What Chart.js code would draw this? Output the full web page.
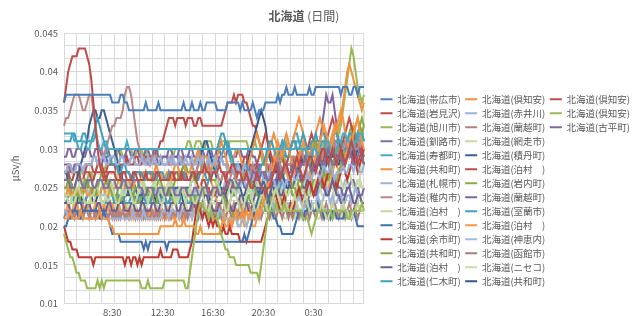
<!DOCTYPE html>
<html>
<head>
<meta charset="utf-8">
<script src="https://cdn.jsdelivr.net/npm/chart.js@4.4.1/dist/chart.umd.min.js"></script>
<style>
  html, body { margin: 0; padding: 0; background: #fff; }
  #box { width: 640px; height: 316px; }
</style>
</head>
<body>
<div id="box"><canvas id="dose"></canvas></div>
<script>
// 10 minute readings from 4:40 to 4:30 next day, values in 0.001 μSv/h
var startMinutes = 4 * 60 + 40;
var stepMinutes = 10;
var pointCount = 144;
var xTickLabels = ['8:30', '12:30', '16:30', '20:30', '0:30'];
var titleMain = '北海道';
var titleSub = ' (日間)';

var stations = ['北海道(帯広市)', '北海道(岩見沢)', '北海道(旭川市)', '北海道(釧路市)', '北海道(寿都町)', '北海道(共和町)', '北海道(札幌市)',
  '北海道(稚内市)', '北海道(泊村　)', '北海道(仁木町)', '北海道(余市町)', '北海道(共和町)', '北海道(泊村　)', '北海道(仁木町)',
  '北海道(倶知安)', '北海道(赤井川)', '北海道(蘭越町)', '北海道(網走市)', '北海道(積丹町)', '北海道(泊村　)', '北海道(岩内町)',
  '北海道(蘭越町)', '北海道(室蘭市)', '北海道(泊村　)', '北海道(神恵内)', '北海道(函館市)', '北海道(ニセコ)', '北海道(共和町)',
  '北海道(倶知安)', '北海道(倶知安)', '北海道(古平町)'];

var colours = ['#4A7EBB', '#BE4B48', '#98B954', '#7D6F9E', '#46AAC5', '#F69240', '#99B2DA',
  '#BC8885', '#C3D69B', '#3F6FAE', '#C0392F', '#86A843', '#6E5F92', '#3CA0BC',
  '#F0913F', '#9BB5DD', '#B5817F', '#C5D9A0', '#3A5F92', '#C24A47', '#8AAA45',
  '#7B68A0', '#41A0BB', '#F59A4A', '#A3BADF', '#A87E7C', '#CADCA8', '#365784',
  '#BE4B48', '#98B954', '#8064A2'];

var obihiro = [
  36,37,37,37,37,37,37,37,37,37,37,37,
  37,37,37,37,37,37,37,37,37,37,37,36,
  36,36,36,37,37,36,36,35,35,35,35,35,
  35,35,35,36,35,35,35,35,35,36,35,35,
  35,35,35,35,35,35,35,35,35,36,35,35,
  35,36,35,35,35,36,35,35,36,36,36,36,
  36,35,35,35,35,35,36,36,36,36,36,36,
  35,36,35,35,35,35,36,35,34,35,35,35,
  36,36,36,36,36,36,37,36,37,37,38,37,
  37,37,38,37,37,37,37,37,37,38,37,37,
  38,38,38,38,38,38,38,38,38,38,38,38,
  37,38,38,38,37,37,38,38,37,38,38,38];
var iwamizawa = [
  36,38,40,41,42,42,42,43,43,43,43,42,
  41,39,36,33,30,28,27,27,26,27,27,27,
  27,26,26,26,27,27,26,26,26,27,27,26,
  26,26,26,27,26,26,26,26,27,27,26,26,
  26,26,26,27,27,26,26,26,27,26,26,26,
  26,27,27,26,27,27,27,28,27,27,26,27,
  27,27,28,27,27,26,27,27,28,28,27,27,
  27,26,26,27,26,25,25,26,27,26,25,25,
  24,25,25,26,27,28,27,26,27,28,28,27,
  26,27,28,29,28,27,26,27,28,29,29,28,
  27,28,29,30,30,29,28,29,30,29,28,29,
  30,29,28,29,30,31,30,29,28,29,30,29];
var asahikawa = [
  19,18,17,16,16,15,14,14,13,13,13,12,
  12,12,12,12,13,12,13,12,13,13,13,13,
  13,13,13,13,13,13,13,13,13,13,13,13,
  13,12,12,12,13,12,12,12,12,12,12,12,
  13,13,13,13,13,13,13,13,13,13,12,12,
  14,16,18,20,22,23,23,22,22,21,22,21,
  21,21,20,19,18,17,17,16,16,16,15,15,
  15,15,15,15,15,14,14,14,14,13,15,17,
  19,21,22,22,22,23,22,22,22,23,22,22,
  22,22,22,22,22,22,21,21,21,20,19,20,
  21,22,22,22,22,22,22,22,21,22,22,22,
  22,22,22,21,21,22,22,22,22,22,23,22];
var kushiro = [
  26,26,26,25,25,25,26,26,26,25,25,26,
  26,26,25,25,26,26,26,25,25,25,26,26,
  26,25,25,25,26,26,25,25,25,26,26,26,
  25,25,24,24,25,25,25,24,24,25,25,25,
  24,24,25,25,25,24,24,24,25,25,25,24,
  24,24,25,25,24,24,25,25,25,24,24,25,
  25,25,24,24,25,25,25,26,26,25,25,25,
  26,26,25,25,26,26,27,27,26,26,27,27,
  27,26,26,27,27,28,28,27,27,28,28,27,
  27,28,28,27,27,28,28,29,28,28,27,28,
  28,29,29,28,28,29,30,29,28,28,29,29,
  29,28,28,29,30,29,28,28,29,30,29,28];
var suttsu = [
  32,32,32,32,32,31,31,30,30,31,31,30,
  30,31,31,32,31,30,30,31,31,30,30,30,
  30,30,30,30,30,30,31,30,30,30,30,30,
  30,30,30,30,30,30,30,30,30,30,30,30,
  30,30,30,30,30,30,30,30,30,30,30,30,
  30,30,30,30,30,30,30,30,30,30,30,30,
  30,30,30,30,30,30,30,30,30,30,30,30,
  30,30,30,30,30,30,30,30,30,30,30,30,
  30,30,30,30,30,30,30,30,30,31,30,30,
  30,30,30,31,31,30,30,30,29,29,29,30,
  30,29,29,30,30,31,31,30,30,29,30,31,
  31,32,32,31,31,30,30,31,31,32,32,32];
var kyowaA = [
  21,21,21,22,21,21,21,21,22,21,21,21,
  21,21,21,21,21,22,21,21,21,21,20,20,
  19,19,19,19,19,19,19,19,19,19,19,19,
  19,19,19,19,19,19,19,19,19,19,20,20,
  20,20,20,20,20,21,20,20,20,21,20,20,
  20,20,20,19,19,20,19,19,19,19,19,19,
  19,19,19,20,21,20,20,21,20,21,22,21,
  21,22,21,22,21,22,21,21,22,21,22,23,
  24,25,26,27,28,29,30,30,29,30,31,30,
  29,28,27,28,29,30,31,30,29,28,27,28,
  29,30,31,32,33,32,31,30,31,32,33,34,
  35,34,32,31,30,31,32,33,34,32,31,30];
var sapporo = [
  27,27,28,28,27,27,28,28,28,27,28,28,
  28,28,29,29,28,28,29,29,28,28,29,29,
  29,28,28,29,29,28,28,28,29,29,28,28,
  28,29,28,28,29,28,28,29,28,28,29,28,
  28,28,29,28,29,28,28,29,28,28,29,28,
  28,29,28,28,29,28,29,28,28,29,28,28,
  29,28,28,29,28,28,27,27,28,27,27,28,
  27,27,28,27,27,26,26,27,26,26,27,26,
  26,26,27,26,26,25,25,26,26,25,26,26,
  26,27,26,26,27,27,26,26,27,26,26,27,
  27,27,26,27,28,27,27,28,27,26,27,27,
  27,28,27,27,28,28,27,28,28,27,27,28];
var wakkanai = [
  33,34,34,35,36,37,37,37,36,35,35,36,
  37,37,35,33,31,30,30,29,30,31,32,33,
  33,34,34,34,35,37,38,38,37,35,33,31,
  30,29,29,28,28,28,29,28,28,28,29,28,
  28,28,28,29,28,28,28,29,29,28,28,28,
  28,28,27,27,28,28,27,27,27,28,27,27,
  27,27,26,26,27,27,26,26,27,27,26,26,
  26,27,27,26,26,27,28,27,27,26,27,27,
  27,28,28,27,27,28,29,28,27,27,28,28,
  28,29,29,28,29,30,29,28,29,29,30,29,
  29,30,30,29,30,31,30,29,30,31,30,29,
  30,30,31,30,29,30,31,30,30,31,30,30];
var tomariA = [
  24,24,23,23,24,24,25,25,24,24,23,23,
  23,24,24,25,25,24,23,23,24,25,26,25,
  24,23,23,24,25,26,26,25,24,23,23,24,
  25,26,25,24,23,24,25,26,25,24,23,23,
  24,25,26,25,24,23,24,25,25,24,23,24,
  25,24,23,23,24,25,24,23,22,22,23,24,
  25,26,25,24,23,22,22,23,24,25,24,23,
  22,22,23,24,25,24,23,22,22,23,24,24,
  23,22,22,23,24,25,24,23,22,22,23,22,
  22,23,24,23,22,22,23,24,23,22,22,23,
  23,22,22,23,22,21,21,22,23,22,22,22,
  22,23,22,22,21,21,22,22,23,22,22,22];
var nikiA = [
  20,20,21,21,22,22,22,21,21,22,22,22,
  22,22,22,22,22,21,21,22,21,21,20,19,
  19,19,19,18,18,18,18,18,18,18,18,18,
  18,18,17,18,17,18,18,18,18,18,18,18,
  18,17,18,18,18,18,18,18,18,18,18,18,
  18,18,18,18,18,18,18,18,18,18,18,18,
  18,18,18,18,18,18,18,18,18,18,18,18,
  18,18,19,18,19,20,21,22,23,24,25,26,
  25,24,23,22,21,21,20,20,19,19,19,19,
  19,19,20,21,22,22,21,22,22,23,22,22,
  22,23,22,22,21,22,22,21,22,22,21,21,
  21,21,22,22,21,21,22,21,20,20,20,20];
var yoichi = [
  20,19,18,18,17,17,17,16,16,16,16,16,
  16,16,15,16,16,16,16,16,16,16,16,16,
  16,16,16,16,16,15,16,16,15,16,16,15,
  16,15,16,16,16,16,16,16,16,16,17,16,
  16,16,16,16,17,17,17,16,16,16,16,16,
  17,18,20,22,23,22,21,22,21,20,21,20,
  21,20,20,19,20,19,19,20,19,19,19,19,
  18,18,18,18,18,18,18,18,18,18,18,19,
  20,21,22,23,24,24,23,22,23,24,23,22,
  23,22,23,24,25,24,23,24,25,26,25,24,
  25,26,27,26,25,26,27,28,27,26,25,26,
  27,28,27,26,27,28,29,28,27,28,29,30];
var kyowaB = [
  25,25,26,26,25,25,24,24,25,25,26,26,
  25,25,24,24,25,26,27,27,26,25,25,24,
  24,24,25,25,26,26,25,25,24,24,25,25,
  26,26,25,25,24,24,24,25,25,26,26,25,
  25,24,24,25,25,26,26,27,27,28,28,27,
  27,27,26,26,27,27,28,28,27,27,26,26,
  26,25,25,24,24,23,23,23,24,24,25,25,
  26,26,27,27,26,26,25,25,24,24,23,23,
  22,22,23,23,24,24,25,26,27,28,28,27,
  26,25,25,24,24,25,26,27,28,28,29,30,
  31,30,29,28,27,26,26,27,28,29,30,30,
  29,28,28,29,30,31,32,33,34,33,32,33];
var tomariB = [
  23,23,23,22,22,22,23,23,23,22,22,23,
  23,22,22,22,23,23,22,22,22,23,23,22,
  22,22,23,23,23,22,22,22,23,23,22,22,
  22,23,23,22,22,22,23,23,22,22,23,23,
  23,22,22,23,23,23,22,22,23,23,22,22,
  22,23,23,22,22,23,23,24,24,23,23,22,
  22,22,23,23,24,24,23,23,22,22,23,23,
  24,24,23,23,22,22,23,24,25,25,24,24,
  23,23,24,25,26,26,25,24,24,25,26,26,
  25,25,26,27,27,26,25,25,26,26,25,24,
  24,25,26,26,25,24,24,25,26,25,24,24,
  23,23,24,25,25,24,23,23,24,24,23,23];
var nikiB = [
  31,31,31,31,32,32,31,31,31,32,32,31,
  31,31,32,33,34,33,32,31,30,29,29,28,
  28,28,27,27,28,28,27,27,26,26,27,27,
  27,27,26,26,27,27,27,26,26,27,27,27,
  26,26,27,27,27,26,26,26,27,27,26,26,
  26,27,27,26,26,27,27,27,26,26,27,27,
  27,28,28,29,30,31,31,30,29,28,28,27,
  27,27,28,28,27,27,26,26,27,27,28,28,
  29,30,31,31,30,29,29,30,31,30,29,29,
  30,31,31,30,30,31,32,31,30,30,31,31,
  32,31,31,32,32,31,30,30,31,32,32,31,
  31,30,30,31,32,32,31,31,32,33,32,31];
var kutchanA = [
  24,24,25,24,24,25,25,24,24,25,25,24,
  24,25,25,24,24,24,25,25,24,24,25,25,
  25,25,26,26,25,25,26,26,25,25,26,26,
  26,26,27,27,26,26,27,27,28,27,27,26,
  26,27,27,26,27,28,28,27,27,28,27,27,
  27,28,28,29,30,29,28,29,29,28,27,28,
  28,29,30,31,30,29,28,27,28,29,30,30,
  29,28,28,27,28,29,30,31,32,31,30,29,
  28,29,30,31,32,31,30,29,30,31,32,31,
  30,31,32,33,34,33,32,31,30,29,30,31,
  32,33,34,33,32,31,30,31,32,33,32,33,
  34,36,38,40,41,40,39,38,37,36,35,36];
var akaigawa = [
  22,22,21,21,21,21,21,21,21,21,21,21,
  21,21,21,21,21,21,21,21,21,21,21,21,
  21,21,21,21,21,21,21,21,21,22,21,21,
  21,21,22,21,21,21,21,21,21,21,21,22,
  22,22,21,22,22,22,22,21,22,22,22,22,
  22,21,22,22,22,21,22,22,21,22,22,21,
  21,21,22,22,21,21,21,20,21,21,21,20,
  20,21,21,20,21,21,22,22,21,21,22,22,
  22,23,22,22,23,22,22,23,23,22,22,23,
  23,22,22,23,24,23,22,23,23,22,23,23,
  23,24,23,23,24,25,24,23,24,23,23,24,
  24,23,23,24,24,23,24,25,24,24,23,23];
var rankoshiA = [
  22,22,21,22,22,21,22,22,22,21,22,22,
  21,22,22,21,22,22,21,22,21,21,22,21,
  22,21,22,21,22,21,21,22,21,22,21,22,
  21,22,21,22,21,21,22,21,22,21,22,22,
  21,22,22,21,22,21,22,22,21,22,21,22,
  22,22,23,23,22,22,23,22,22,23,23,22,
  22,23,23,22,22,23,22,22,22,23,22,22,
  23,22,22,23,23,22,22,22,23,23,22,22,
  22,23,23,22,22,23,22,22,23,22,22,23,
  23,22,22,23,22,22,23,23,22,22,23,22,
  22,22,23,22,22,23,22,22,23,23,22,22,
  22,23,22,22,23,22,22,23,23,22,22,22];
var abashiri = [
  25,25,24,24,23,23,24,25,26,26,25,24,
  24,23,23,24,25,26,26,25,24,23,24,25,
  26,27,26,25,24,24,25,26,26,25,24,24,
  25,26,26,25,24,24,25,26,26,26,25,24,
  24,25,26,26,25,24,23,24,25,25,24,24,
  25,26,26,25,24,24,25,25,24,23,23,24,
  25,25,24,24,23,23,24,25,26,26,25,25,
  24,23,23,24,25,25,24,24,25,26,26,25,
  24,24,25,25,24,23,23,24,25,25,24,24,
  25,26,26,25,24,24,25,26,25,24,24,25,
  26,26,25,24,24,25,26,26,25,24,25,26,
  26,25,25,26,27,26,25,25,26,26,25,25];
var shakotan = [
  27,27,26,26,25,25,26,27,28,29,30,31,
  33,34,35,35,34,34,35,35,34,33,32,31,
  30,29,28,27,26,25,25,24,24,24,25,24,
  24,24,25,25,24,24,24,25,25,24,24,24,
  24,25,25,24,24,25,25,25,24,24,25,25,
  25,26,26,27,28,29,30,31,31,30,29,28,
  27,26,25,25,24,24,25,25,24,24,25,25,
  25,24,24,25,25,26,26,25,25,24,24,25,
  25,25,24,24,25,25,26,27,27,26,25,25,
  26,27,28,28,27,26,26,27,28,29,28,27,
  27,28,28,27,27,28,29,29,28,28,29,30,
  30,29,28,29,30,30,29,29,30,30,29,29];
var tomariC = [
  27,27,27,26,26,27,27,27,26,26,27,27,
  27,26,26,27,27,27,27,26,26,27,27,27,
  27,27,27,26,27,27,27,27,26,27,27,27,
  27,26,27,27,27,27,26,27,27,27,26,26,
  26,26,27,26,26,27,27,26,26,27,27,26,
  26,27,27,26,25,25,26,26,25,25,24,24,
  24,25,25,24,24,25,26,26,25,25,26,27,
  27,28,29,29,28,28,27,27,28,29,30,31,
  32,31,30,29,28,28,29,30,29,28,28,29,
  30,31,31,30,29,28,28,29,30,31,32,31,
  31,30,29,29,30,31,32,33,34,33,32,31,
  30,31,32,33,34,33,32,31,30,30,29,28];
var iwanai = [
  24,24,25,25,24,24,23,23,24,24,25,25,
  26,26,25,25,24,24,25,25,26,26,25,24,
  24,24,23,23,24,24,25,25,24,24,23,23,
  23,24,24,25,25,24,24,23,23,24,24,25,
  25,25,24,24,23,23,24,24,25,25,24,24,
  24,23,23,24,24,25,25,24,24,23,23,22,
  22,21,21,22,22,23,23,22,22,21,21,22,
  22,23,23,24,24,23,23,22,22,23,24,24,
  24,23,23,24,25,25,24,24,23,23,24,25,
  25,24,24,25,26,26,25,25,24,24,25,26,
  26,25,25,26,27,27,26,26,25,25,26,27,
  28,29,30,31,32,33,32,31,32,33,34,33];
var rankoshiB = [
  29,29,30,30,29,29,30,30,30,29,29,30,
  30,29,29,30,30,30,29,29,30,30,29,29,
  29,30,30,29,29,29,30,30,29,29,30,30,
  29,29,29,30,30,29,29,30,30,29,29,29,
  29,29,30,30,29,29,29,30,30,29,29,29,
  30,30,29,29,29,30,30,29,29,30,30,29,
  29,30,30,29,29,29,30,30,29,29,29,30,
  30,29,29,29,30,30,29,29,28,28,27,27,
  26,26,25,25,26,26,27,27,26,26,25,25,
  25,24,24,25,25,24,24,23,23,24,24,25,
  25,26,26,25,25,24,24,25,25,26,26,25,
  25,24,24,25,25,26,26,25,25,24,24,25];
var muroran = [
  24,24,23,23,23,24,24,24,23,23,23,24,
  24,24,25,25,24,24,23,23,23,24,24,24,
  23,23,24,24,24,23,23,23,24,24,23,23,
  24,24,24,23,23,23,24,24,24,23,23,24,
  24,23,23,24,24,24,23,23,24,24,24,23,
  23,24,24,23,23,24,24,25,25,26,27,28,
  29,30,31,32,32,31,30,29,28,27,26,25,
  24,24,23,23,24,24,25,25,24,24,23,23,
  23,24,24,25,25,24,24,25,26,27,28,29,
  30,31,32,32,31,30,29,28,28,29,30,31,
  31,30,30,31,31,30,29,29,30,31,31,30,
  30,31,31,30,30,31,32,32,31,31,32,31];
var tomariD = [
  22,22,23,22,22,23,23,22,22,23,22,22,
  23,22,22,23,23,22,22,23,22,22,23,23,
  22,22,23,22,22,23,22,21,22,21,22,21,
  22,21,21,22,21,22,21,22,21,21,22,21,
  22,21,22,21,21,22,22,21,22,21,22,22,
  22,23,23,24,24,25,26,27,28,27,26,25,
  24,23,23,22,22,21,21,20,20,21,21,20,
  20,21,20,20,21,21,20,20,21,22,23,24,
  25,26,27,28,29,30,31,30,29,28,27,26,
  26,27,28,28,27,26,25,25,26,27,26,25,
  25,26,27,27,26,25,25,26,27,28,28,27,
  27,28,29,30,31,32,33,32,31,30,29,28];
var kamoenai = [
  25,25,24,24,25,25,25,24,24,25,25,25,
  24,24,24,25,25,24,24,24,25,25,24,24,
  25,25,24,24,24,25,25,24,24,25,25,24,
  24,25,25,24,24,24,25,25,24,24,25,25,
  24,24,25,25,24,24,25,25,24,24,24,25,
  25,24,24,25,25,24,24,25,25,24,24,25,
  25,24,24,25,25,26,26,25,25,24,24,25,
  25,26,26,25,25,24,24,25,26,26,25,25,
  24,24,25,26,26,25,24,24,25,26,26,25,
  25,24,24,25,26,26,25,24,24,25,26,26,
  25,24,25,26,26,25,24,25,26,26,25,24,
  24,25,26,26,25,24,24,25,26,26,25,25];
var hakodate = [
  21,22,22,21,21,22,22,22,21,21,22,22,
  22,21,21,22,22,21,21,22,22,21,22,22,
  21,22,21,22,22,21,22,21,22,22,21,22,
  22,21,22,21,22,21,22,22,21,22,21,22,
  21,22,21,22,22,21,22,21,22,21,22,21,
  22,21,22,22,21,22,21,22,22,21,22,22,
  21,22,22,21,22,21,22,22,21,22,22,21,
  22,21,22,22,21,22,22,21,22,22,21,22,
  22,22,21,22,22,21,22,22,21,22,22,21,
  22,21,22,22,21,22,22,21,22,21,22,22,
  21,22,22,21,22,22,21,22,21,22,22,21,
  22,22,21,22,22,21,22,22,21,22,22,22];
var niseko = [
  23,23,22,23,23,22,22,23,23,22,22,23,
  23,22,22,23,23,23,22,22,23,23,22,22,
  22,23,23,22,22,23,23,22,22,23,23,22,
  22,22,23,23,22,22,23,23,23,22,22,23,
  23,23,22,22,23,23,22,22,22,23,23,22,
  22,22,23,23,22,22,23,23,22,22,23,23,
  23,22,22,23,23,22,22,23,22,22,23,23,
  22,22,23,23,22,22,22,23,23,22,22,23,
  23,22,22,21,22,22,23,22,22,21,21,22,
  22,21,21,22,22,21,22,22,21,21,22,22,
  22,21,21,22,22,21,21,22,22,21,21,22,
  22,21,22,22,21,21,22,22,23,26,30,35];
var kyowaC = [
  23,23,24,24,23,23,23,24,24,23,23,24,
  24,24,23,23,24,24,25,25,24,24,23,23,
  23,24,24,23,23,24,24,25,25,24,24,23,
  23,23,24,24,23,23,24,24,23,23,24,24,
  24,23,23,24,24,23,23,24,24,23,23,24,
  24,24,23,23,24,24,25,25,24,24,23,23,
  23,24,25,26,27,27,26,25,25,26,27,28,
  28,27,27,28,29,30,31,32,33,34,35,34,
  33,31,29,28,27,27,28,29,29,28,27,27,
  27,28,28,27,27,28,29,29,28,28,27,27,
  28,29,29,28,28,29,30,30,29,29,28,28,
  29,30,30,29,29,30,31,31,30,30,29,28];
var kutchanB = [
  27,27,28,28,27,27,28,28,28,27,27,28,
  28,28,27,27,28,28,28,27,27,28,28,28,
  28,27,27,28,28,28,29,28,28,28,29,29,
  28,28,29,29,29,28,29,29,30,30,31,31,
  32,33,34,34,34,33,34,34,34,34,33,34,
  34,34,33,33,34,34,33,33,33,33,33,33,
  33,33,33,33,34,35,36,36,36,37,36,37,
  37,37,36,36,35,34,33,33,32,31,30,29,
  28,28,27,28,28,27,27,28,27,27,28,28,
  28,27,27,28,28,29,28,28,29,29,28,28,
  29,29,28,28,29,30,30,29,29,30,29,29,
  30,29,29,30,30,29,30,31,30,30,30,30];
var kutchanC = [
  26,26,27,26,26,27,27,26,27,27,26,26,
  27,27,26,27,28,28,27,27,28,28,28,29,
  29,29,30,30,29,29,30,30,30,29,29,30,
  30,30,29,29,30,30,30,29,29,30,30,30,
  30,30,30,30,29,30,30,30,30,30,30,31,
  31,30,30,31,31,31,30,30,31,31,31,30,
  30,30,31,31,31,31,30,31,31,31,31,31,
  31,31,31,31,30,30,31,31,30,30,29,28,
  28,27,27,28,28,27,27,28,29,29,28,28,
  28,29,29,28,28,29,30,31,30,29,30,31,
  30,29,29,30,31,30,30,29,30,31,31,32,
  33,35,37,39,41,43,42,40,38,37,36,37];
var furubira = [
  28,28,28,27,27,28,28,28,27,27,28,28,
  28,28,29,29,28,28,28,29,29,28,28,28,
  28,28,28,29,29,29,28,28,29,29,28,28,
  28,29,29,29,28,28,29,29,29,28,28,29,
  29,29,28,28,29,29,29,28,28,29,29,29,
  29,28,28,29,29,29,29,28,28,29,29,28,
  28,28,29,29,28,28,28,27,27,28,28,28,
  28,27,27,28,28,27,27,28,28,27,28,28,
  28,29,29,28,28,29,29,30,30,29,29,29,
  29,29,28,28,29,29,30,30,29,29,29,30,
  30,30,31,33,35,37,36,36,37,35,33,31,
  30,29,29,30,30,29,29,30,31,30,29,29];

var series = [obihiro, iwamizawa, asahikawa, kushiro, suttsu, kyowaA, sapporo,
  wakkanai, tomariA, nikiA, yoichi, kyowaB, tomariB, nikiB,
  kutchanA, akaigawa, rankoshiA, abashiri, shakotan, tomariC, iwanai,
  rankoshiB, muroran, tomariD, kamoenai, hakodate, niseko, kyowaC,
  kutchanB, kutchanC, furubira];

var categories = [];
for (var i = 0; i < pointCount; i++) {
  var m = (startMinutes + i * stepMinutes) % (24 * 60);
  categories.push(Math.floor(m / 60) + ':' + String(m % 60).padStart(2, '0'));
}

// gridlines every 0.005/3, labels every 0.005
var yGrid = [];
for (var j = 0; j <= 21; j++) {
  yGrid.push((10 + j * 5 / 3) / 1000);
}

var gridColor = '#d9d9d9';
var textColor = '#595959';
var fontFamily = '"Noto Sans CJK JP", "Noto Sans", sans-serif';

Chart.defaults.font.family = fontFamily;
Chart.defaults.color = textColor;

// chart title: bold place name followed by a regular-weight period
var splitTitle = {
  id: 'splitTitle',
  afterDraw: function (chart) {
    var ctx = chart.ctx;
    ctx.save();
    ctx.textBaseline = 'middle';
    ctx.fillStyle = textColor;
    ctx.font = 'bold 12px ' + fontFamily;
    var w1 = ctx.measureText(titleMain).width;
    ctx.font = '12px ' + fontFamily;
    var w2 = ctx.measureText(titleSub).width;
    var x = 304 - (w1 + w2) / 2;
    ctx.font = 'bold 12px ' + fontFamily;
    ctx.fillText(titleMain, x, 16);
    ctx.font = '12px ' + fontFamily;
    ctx.fillText(titleSub, x + w1, 16);
    ctx.restore();
  }
};

document.addEventListener("DOMContentLoaded", function () {
  var datasets = stations.map(function (name, k) {
    return {
      label: name,
      data: series[k].map(function (v) { return v / 1000; }),
      borderColor: colours[k],
      backgroundColor: colours[k],
      borderWidth: 2,
      pointRadius: 0,
      tension: 0,
      fill: false
    };
  });

  new Chart(document.getElementById('dose').getContext('2d'), {
    type: 'line',
    data: {
      labels: categories,
      datasets: datasets
    },
    plugins: [splitTitle],
    options: {
      responsive: true,
      maintainAspectRatio: false,
      animation: false,
      layout: { padding: { left: 4, right: 0, top: 33, bottom: -5 } },
      plugins: {
        tooltip: { enabled: false },
        title: { display: false },
        legend: {
          position: 'right',
          align: 'start',
          fullSize: false,
          maxWidth: 266,
          title: { display: true, text: ' ', font: { size: 10 }, padding: { top: 45, bottom: 0 } },
          labels: {
            usePointStyle: true,
            pointStyle: 'line',
            pointStyleWidth: 12,
            color: textColor,
            font: { size: 9.5 },
            padding: 4.5
          }
        }
      },
      scales: {
        x: {
          grid: {
            drawTicks: false,
            color: function (ctx) {
              return (ctx.index % 6 === 0 || ctx.index === pointCount - 1) ? gridColor : 'rgba(0,0,0,0)';
            }
          },
          border: { color: gridColor },
          ticks: {
            autoSkip: false,
            maxRotation: 0,
            color: textColor,
            font: { size: 9.5 },
            padding: 3,
            callback: function (v, idx) {
              return xTickLabels.indexOf(categories[idx]) >= 0 ? categories[idx] : '';
            }
          }
        },
        y: {
          min: 0.01,
          max: 0.045,
          afterBuildTicks: function (axis) {
            axis.ticks = yGrid.map(function (v) { return { value: v }; });
          },
          afterFit: function (axis) { axis.width = 60; },
          grid: { color: gridColor, drawTicks: false },
          border: { color: gridColor },
          ticks: {
            autoSkip: false,
            color: textColor,
            font: { size: 9.5 },
            padding: 6,
            callback: function (v, idx) {
              return idx % 3 === 0 ? String(parseFloat(v.toFixed(3))) : '';
            }
          },
          title: { display: true, text: 'μSv/h', color: textColor, font: { size: 9.5 }, padding: { top: 6, bottom: 0 } }
        },
        gap: {
          type: 'linear',
          position: 'right',
          grid: { display: false },
          border: { display: false },
          ticks: { display: false },
          afterFit: function (axis) { axis.width = 12; }
        }
      }
    }
  });
});
</script>
</body>
</html>
